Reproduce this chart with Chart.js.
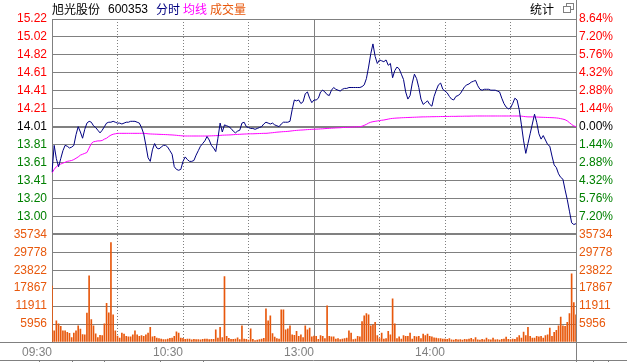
<!DOCTYPE html>
<html>
<head>
<meta charset="utf-8">
<script src="https://cdn.jsdelivr.net/npm/chart.js@4.4.0/dist/chart.umd.min.js"></script>
<style>
  body { margin: 0; background: #fff; }
  #wrap { position: relative; width: 627px; height: 362px; overflow: hidden; }
  #wrap canvas { position: absolute; left: 0; top: 0; }
  .t { position: absolute; top: 2px; font-size: 12px; line-height: 14px; white-space: nowrap;
       font-family: "Noto Sans CJK SC", sans-serif; }
  .num { font-family: Arial, "Liberation Sans", sans-serif; }
  .ico { position: absolute; width: 6px; height: 5px; border: 1px solid #808080; background: #fff; }
</style>
</head>
<body>
<div id="wrap">
  <canvas id="chart" width="627" height="362"></canvas>
  <span class="t" style="left:52px;color:#000">旭光股份</span>
  <span class="t num" style="left:108px;color:#000">600353</span>
  <span class="t" style="left:156px;color:#000080">分时</span>
  <span class="t" style="left:183px;color:#ff00ff">均线</span>
  <span class="t" style="left:210px;color:#e8580c">成交量</span>
  <span class="t" style="left:530px;color:#000">统计</span>
  <div class="ico" style="left:566px;top:3px"></div>
  <div class="ico" style="left:563px;top:6px"></div>
</div>
<script>
// 分时数据 (09:30 - 11:30, 13:01 - 15:00), 每分钟一个点
const prevClose = 14.01;
const priceMin = 12.80;
const priceMax = 15.22;
const volMax = 35734;

const price = [
  13.50, 13.80, 13.65, 13.56, 13.65, 13.74, 13.80, 13.79, 13.77, 13.78,
  13.80, 13.92, 14.01, 13.95, 13.88, 13.98, 14.05, 14.07, 14.06, 14.02,
  14.00, 13.97, 13.94, 13.97, 14.01, 14.05, 14.06, 14.06, 14.07, 14.06,
  14.05, 14.05, 14.04, 14.05, 14.06, 14.06, 14.07, 14.07, 14.07, 14.06,
  14.05, 14.00, 13.93, 13.80, 13.66, 13.62, 13.75, 13.82, 13.77, 13.76,
  13.78, 13.80, 13.80, 13.78, 13.74, 13.70, 13.56, 13.53, 13.52, 13.53,
  13.62, 13.67, 13.64, 13.62, 13.62, 13.63, 13.69, 13.74, 13.79, 13.82,
  13.85, 13.90, 13.86, 13.80, 13.77, 13.73, 13.88, 14.05, 13.95, 14.03,
  14.02, 14.01, 13.99, 13.96, 13.94, 13.96, 13.97, 14.05, 14.06, 14.01,
  14.00, 13.99, 13.99, 13.98, 13.99, 14.00, 14.01, 14.04, 14.06, 14.05,
  14.04, 14.05, 14.03, 14.02, 14.01, 14.04, 14.06, 14.06, 14.06, 14.07,
  14.20, 14.31, 14.30, 14.31, 14.27, 14.29, 14.38, 14.40, 14.33, 14.28,
  14.31, 14.31, 14.33, 14.40, 14.42, 14.40, 14.37, 14.36, 14.42, 14.45,
  14.43, 14.42, 14.41, 14.43, 14.44, 14.44, 14.45, 14.45, 14.45, 14.45,
  14.45, 14.45, 14.46, 14.48, 14.55, 14.68, 14.83, 14.94, 14.80, 14.72,
  14.76, 14.75, 14.74, 14.76, 14.70, 14.72, 14.56, 14.64, 14.68, 14.66,
  14.60, 14.54, 14.40, 14.32, 14.36, 14.50, 14.60, 14.55, 14.45, 14.32,
  14.26, 14.28, 14.30, 14.26, 14.24, 14.35, 14.42, 14.48, 14.50, 14.43,
  14.41, 14.39, 14.35, 14.32, 14.31, 14.35, 14.36, 14.38, 14.42, 14.46,
  14.48, 14.49, 14.51, 14.52, 14.53, 14.47, 14.43, 14.42, 14.43, 14.43,
  14.43, 14.42, 14.42, 14.42, 14.41, 14.40, 14.33, 14.27, 14.23, 14.21,
  14.22, 14.27, 14.33, 14.31, 14.20, 14.03, 13.85, 13.71, 13.82, 13.93,
  14.04, 14.15, 14.06, 13.93, 13.87, 13.91, 13.86, 13.81, 13.79, 13.68,
  13.58, 13.55, 13.48, 13.44, 13.42, 13.30, 13.19, 13.06, 12.93, 12.91,
  12.92
];

const avgPrice = [
  13.49, 13.53, 13.56, 13.58, 13.59, 13.60, 13.61, 13.62, 13.625, 13.63,
  13.64, 13.655, 13.67, 13.69, 13.70, 13.71, 13.72, 13.77, 13.82, 13.84,
  13.845, 13.85, 13.85, 13.855, 13.87, 13.88, 13.90, 13.915, 13.925, 13.93,
  13.935, 13.935, 13.935, 13.935, 13.935, 13.935, 13.935, 13.935, 13.935, 13.935,
  13.935, 13.935, 13.935, 13.933, 13.93, 13.928, 13.927, 13.926, 13.925, 13.924,
  13.923, 13.922, 13.921, 13.92, 13.918, 13.917, 13.915, 13.913, 13.91, 13.908,
  13.906, 13.905, 13.905, 13.905, 13.905, 13.905, 13.905, 13.905, 13.905, 13.905,
  13.905, 13.905, 13.906, 13.907, 13.908, 13.909, 13.91, 13.912, 13.914, 13.915,
  13.916, 13.917, 13.918, 13.92, 13.922, 13.923, 13.924, 13.926, 13.927, 13.928,
  13.929, 13.93, 13.93, 13.931, 13.932, 13.933, 13.934, 13.935, 13.935, 13.937,
  13.94, 13.942, 13.945, 13.948, 13.95, 13.952, 13.954, 13.955, 13.957, 13.96,
  13.963, 13.966, 13.968, 13.97, 13.972, 13.973, 13.975, 13.977, 13.978, 13.98,
  13.981, 13.982, 13.983, 13.985, 13.986, 13.988, 13.99, 13.991, 13.993, 13.994,
  13.996, 13.997, 13.998, 14.00, 14.001, 14.002, 14.004, 14.005, 14.006, 14.008,
  14.009, 14.01, 14.015, 14.025, 14.036, 14.05, 14.06, 14.066, 14.07, 14.074,
  14.078, 14.082, 14.085, 14.09, 14.095, 14.10, 14.103, 14.105, 14.107, 14.108,
  14.11, 14.111, 14.112, 14.113, 14.114, 14.115, 14.116, 14.117, 14.118, 14.119,
  14.12, 14.12, 14.121, 14.121, 14.122, 14.122, 14.123, 14.123, 14.124, 14.124,
  14.125, 14.125, 14.125, 14.126, 14.126, 14.126, 14.127, 14.127, 14.127, 14.128,
  14.128, 14.128, 14.129, 14.129, 14.13, 14.13, 14.13, 14.13, 14.13, 14.13,
  14.13, 14.13, 14.13, 14.13, 14.13, 14.13, 14.13, 14.13, 14.13, 14.13,
  14.13, 14.13, 14.13, 14.13, 14.13, 14.128, 14.125, 14.122, 14.12, 14.12,
  14.12, 14.119, 14.118, 14.117, 14.116, 14.115, 14.114, 14.113, 14.112, 14.111,
  14.11, 14.108, 14.105, 14.10, 14.095, 14.088, 14.075, 14.055, 14.035, 14.018,
  14.01
];

const volume = [
  18600, 3700, 7000, 6000, 5200, 3700, 3700, 3200, 2900, 1500,
  3000, 3700, 5400, 4300, 2500, 2400, 9600, 22000, 7400, 5400,
  2700, 1500, 2200, 2100, 6000, 12800, 9700, 33000, 9000, 3700,
  2000, 1300, 3000, 2600, 1900, 1700, 1700, 2400, 3700, 2400,
  1900, 2100, 1900, 2400, 3000, 4900, 1700, 1900, 1300, 1100,
  1000, 800, 800, 1000, 1200, 1300, 1900, 3400, 3000, 1300,
  1200, 900, 1000, 1000, 700, 900, 800, 800, 700, 900,
  1000, 1000, 800, 900, 900, 4000, 1300, 4900, 1500, 21700,
  1900, 1200, 900, 900, 1000, 1400, 800, 5400, 1000, 900,
  600, 4400, 900, 500, 600, 800, 1000, 1200, 11000, 7000,
  8700, 2800, 1600, 1100, 1000, 10700, 10700, 4000, 4400, 5400,
  2400, 2200, 3500, 1900, 2400, 1500, 5400, 4000, 4600, 1700,
  2000, 1900, 900, 2100, 1900, 1100, 12000, 1900, 1700, 1700,
  1000, 1100, 800, 1000, 1100, 1300, 3700, 3000, 800, 1000,
  1900, 1700, 6800, 8700, 9400, 9000, 5400, 5700, 6500, 2100,
  1100, 3000, 1000, 1100, 3500, 2400, 14300, 6000, 1100, 1700,
  1000, 2100, 1900, 1900, 3000, 1000, 1900, 1700, 1900, 1100,
  2600, 2100, 2600, 1900, 1700, 1400, 1300, 1100, 1100, 1000,
  1000, 900, 1100, 700, 600, 900, 700, 800, 600, 900,
  800, 1000, 1200, 800, 1500, 700, 600, 900, 700, 1300,
  800, 700, 1300, 700, 800, 600, 900, 1000, 1600, 900,
  800, 1000, 900, 1500, 2100, 1300, 3300, 2100, 4900, 1900,
  1300, 1300, 1900, 1700, 1900, 1300, 2100, 2400, 4600, 1900,
  3200, 3900, 5400, 8300, 5400, 5200, 6500, 9400, 22600, 13100,
  9000
];

// 刻度文字 (从上到下)
const priceLabels = ['15.22', '15.02', '14.82', '14.61', '14.41', '14.21', '14.01',
                     '13.81', '13.61', '13.41', '13.20', '13.00'];
const pctLabels = ['8.64%', '7.20%', '5.76%', '4.32%', '2.88%', '1.44%', '0.00%',
                   '1.44%', '2.88%', '4.32%', '5.76%', '7.20%'];
const volLabels = ['35734', '29778', '23822', '17867', '11911', '5956'];
const timeLabels = { 0: '09:30', 60: '10:30', 120: '13:00', 180: '14:00' };

// 分钟标签
const times = [];
for (let m = 0; m <= 120; m++) {
  const t = 9 * 60 + 30 + m;
  times.push(String(Math.floor(t / 60)).padStart(2, '0') + ':' + String(t % 60).padStart(2, '0'));
}
for (let m = 1; m <= 120; m++) {
  const t = 13 * 60 + m;
  times.push(String(Math.floor(t / 60)).padStart(2, '0') + ':' + String(t % 60).padStart(2, '0'));
}

const GRID = '#808080';
const RED = '#ff0000';
const GREEN = '#008000';
const VOL = '#e8580c';
const FONT = { family: 'Arial, "Liberation Sans", sans-serif', size: 12 };

function upDownColor(ctx) {
  const j = 12 - ctx.index;
  if (j < 6) return RED;
  if (j === 6) return '#000000';
  return GREEN;
}

function evenTicks(min, max, n) {
  return function (scale) {
    const ticks = [];
    for (let k = 0; k <= n; k++) ticks.push({ value: min + k * (max - min) / n });
    scale.ticks = ticks;
  };
}

// 画面外框: 底部横线, 右侧竖线
const frame = {
  id: 'frame',
  afterDraw(chart) {
    const c = chart.ctx;
    const a = chart.chartArea;
    c.save();
    c.strokeStyle = GRID;
    c.lineWidth = 1;
    c.beginPath();
    c.moveTo(0, a.bottom + 0.5);
    c.lineTo(chart.width, a.bottom + 0.5);
    c.moveTo(0, 360.5);
    c.lineTo(chart.width, 360.5);
    c.moveTo(a.right + 0.5, 0);
    c.lineTo(a.right + 0.5, chart.height);
    [39, 72, 104, 160, 203, 593, 608].forEach(x => {
      c.moveTo(x + 0.5, 360);
      c.lineTo(x + 0.5, chart.height);
    });
    c.stroke();
    c.restore();
  }
};

const ctx = document.getElementById('chart').getContext('2d');
const chart = new Chart(ctx, {
  type: 'line',
  data: {
    labels: times,
    datasets: [
      {
        label: '分时',
        data: price,
        yAxisID: 'yPrice',
        borderColor: '#000080',
        borderWidth: 1,
        pointRadius: 0,
        tension: 0
      },
      {
        label: '均线',
        data: avgPrice,
        yAxisID: 'yPrice',
        borderColor: '#ff00ff',
        borderWidth: 1,
        pointRadius: 0,
        tension: 0
      },
      {
        type: 'bar',
        label: '成交量',
        data: volume,
        yAxisID: 'yVol',
        backgroundColor: VOL,
        borderWidth: 0,
        barThickness: 1
      }
    ]
  },
  options: {
    responsive: false,
    animation: false,
    events: [],
    layout: { padding: { top: 19, left: 0, right: 0, bottom: 0 } },
    plugins: { legend: { display: false }, tooltip: { enabled: false } },
    scales: {
      x: {
        type: 'category',
        offset: false,
        grid: { color: GRID, offset: false, drawTicks: false },
        border: {
          color: GRID,
          dash: c => (c.tick && c.tick.value % 120 !== 0) ? [1, 2] : []
        },
        ticks: {
          autoSkip: false, maxRotation: 0, minRotation: 0,
          align: 'end', padding: 3, color: GRID, font: FONT,
          callback: v => timeLabels[v] || ''
        },
        afterBuildTicks: s => { s.ticks = s.ticks.filter(t => t.value % 30 === 0); },
        afterFit: s => { s.height = 20; }
      },
      // 左侧堆叠轴按定义顺序自下而上, 右侧自上而下
      yVol: {
        position: 'left', stack: 'left', stackWeight: 6,
        min: 0, max: volMax,
        grid: { color: GRID, drawTicks: false, lineWidth: c => c.index === 6 ? 2 : 1 },
        border: { color: GRID },
        ticks: { autoSkip: false, padding: 5, font: FONT, color: VOL, callback: (v, i) => volLabels[6 - i] || '' },
        afterBuildTicks: evenTicks(0, volMax, 6),
        afterFit: s => { s.width = 52; }
      },
      yPrice: {
        position: 'left', stack: 'left', stackWeight: 12,
        min: priceMin, max: priceMax,
        grid: { color: GRID, drawTicks: false, lineWidth: c => (c.index === 0 || c.index === 6) ? 2 : 1 },
        border: { color: GRID },
        ticks: { autoSkip: false, padding: 5, font: FONT, color: upDownColor, callback: (v, i) => priceLabels[12 - i] || '' },
        afterBuildTicks: evenTicks(priceMin, priceMax, 12),
        afterFit: s => { s.width = 52; }
      },
      yPct: {
        position: 'right', stack: 'right', stackWeight: 12,
        min: -8.64, max: 8.64,
        grid: { display: false, drawTicks: false },
        border: { color: GRID },
        ticks: { autoSkip: false, padding: 3, font: FONT, color: upDownColor, callback: (v, i) => pctLabels[12 - i] || '' },
        afterBuildTicks: evenTicks(-8.64, 8.64, 12),
        afterFit: s => { s.width = 51; }
      },
      yVolR: {
        position: 'right', stack: 'right', stackWeight: 6,
        min: 0, max: volMax,
        grid: { display: false, drawTicks: false },
        border: { color: GRID },
        ticks: { autoSkip: false, padding: 3, font: FONT, color: VOL, callback: (v, i) => volLabels[6 - i] || '' },
        afterBuildTicks: evenTicks(0, volMax, 6),
        afterFit: s => { s.width = 51; }
      }
    }
  },
  plugins: [frame]
});
</script>
</body>
</html>
